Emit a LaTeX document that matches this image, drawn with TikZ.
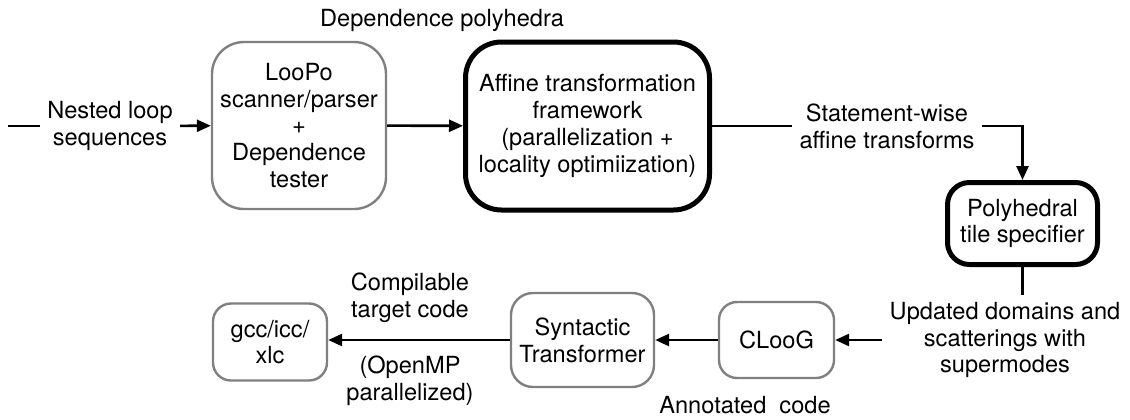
\documentclass[tikz,border=0pt]{standalone}
\usepackage{fontspec}
\setmainfont{TeX Gyre Heros}
\usetikzlibrary{arrows.meta,positioning}

\begin{document}
\begin{tikzpicture}[x=0.5pt,y=-0.5pt,->,>={Triangle[length=7pt,width=6pt]},line width=1.3pt,
            font=\fontsize{11.8}{13.4}\selectfont,
            stage/.style={draw=black!50,line width=1.2pt,rounded corners=9pt,align=center,inner sep=2pt},
            core stage/.style={stage,draw=black,line width=2.5pt},
            note/.style={align=center,inner sep=3pt}]

        \useasboundingbox (0,0) rectangle (1130,419);

        \node[stage,minimum width=87pt,minimum height=83.5pt,rounded corners=16pt] (loopo) at (299,125.5) {LooPo\\scanner/parser\\+\\Dependence\\tester};
        \node[core stage,minimum width=122pt,minimum height=84pt,rounded corners=18pt] (affine) at (587.5,126) {Affine transformation\\framework\\(parallelization +\\locality optimiization)};
        \node[core stage,minimum width=75pt,minimum height=41pt,rounded corners=11pt] (tiler) at (1022.5,223.5) {Polyhedral\\tile specifier};
        \node[stage,minimum width=57.5pt,minimum height=38pt] (cloog) at (776.5,340) {CLooG};
        \node[stage,minimum width=71.5pt,minimum height=47pt,rounded corners=11pt] (syntactic) at (582.5,340) {Syntactic\\Transformer};
        \node[stage,minimum width=57pt,minimum height=38.5pt] (gcc) at (270,342) {gcc/icc/\\xlc};

        \node[note] (input) at (110,126) {Nested loop\\sequences};
        \node[note] (deps) at (442,20) {Dependence polyhedra};
        \node[note] (stmt) at (887,126) {Statement-wise\\affine transforms};
        \node[note] (updated) at (1005,340) {Updated domains and\\scatterings with\\supermodes};
        \node[note] (annot) at (745,405) {Annotated\ \ code};
        \node[note] (compil) at (410,298) {Compilable\\target code};
        \node[note] (openmp) at (410,381) {(OpenMP\\parallelized)};
        \coordinate (start) at (8,126);

        \draw[-] (start) -- (input);
        \draw (input) -- (loopo);
        \draw (loopo) -- (affine);
        \draw[-] (affine) -- (stmt);
        \draw (stmt.east) -| (tiler);
        \draw[-] (tiler.south) -- (tiler.south |- updated.north);
        \draw (updated) -- (cloog);
        \draw (cloog) -- (syntactic);
        \draw (syntactic) -- (syntactic -| gcc.east);

    \end{tikzpicture}
\end{document}
